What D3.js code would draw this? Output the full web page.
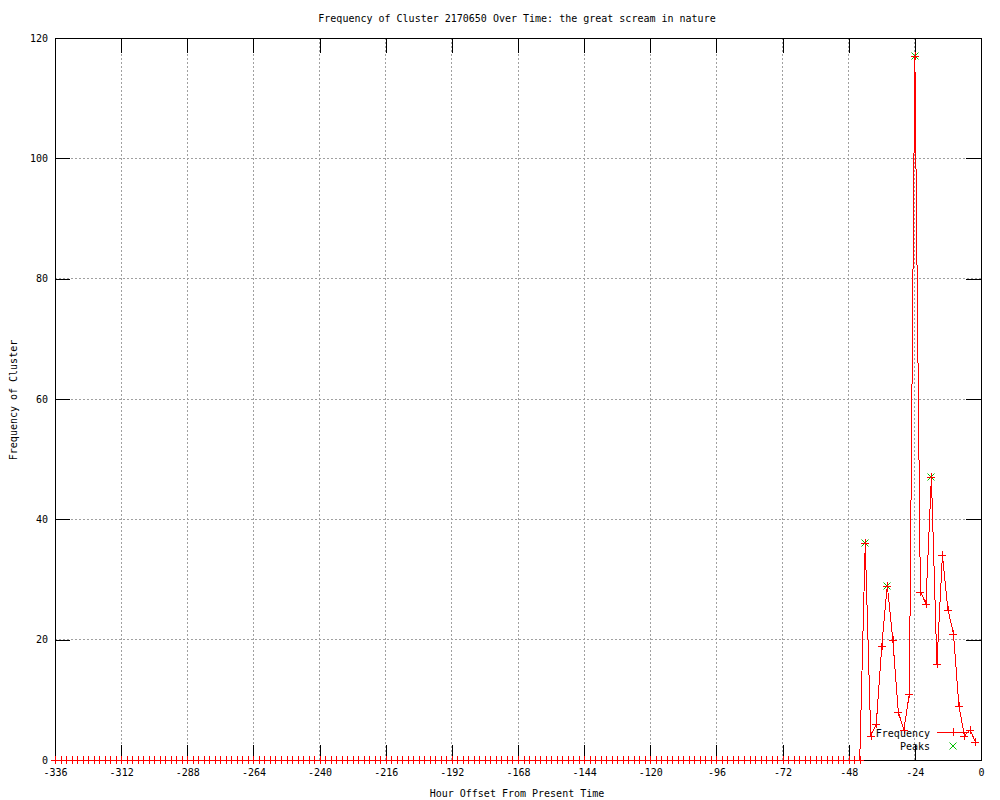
<!DOCTYPE html>
<html>
<head>
<meta charset="utf-8">
<script src="https://cdn.jsdelivr.net/npm/d3@7"></script>
<style>
  body { margin: 0; background: #fff; }
  svg text { font-family: "DejaVu Sans Mono", monospace; font-size: 10px; fill: #000; }
</style>
</head>
<body>
<div id="chart"></div>
<script>
// frequency per 2-hour bin, first bin at hour -336, last at hour -2
let freq = [
    0,0,0,0,0,0,0,0,0,0,0,0,0,0,0,0,0,0,0,0,0,0,0,0,
    0,0,0,0,0,0,0,0,0,0,0,0,0,0,0,0,0,0,0,0,0,0,0,0,
    0,0,0,0,0,0,0,0,0,0,0,0,0,0,0,0,0,0,0,0,0,0,0,0,
    0,0,0,0,0,0,0,0,0,0,0,0,0,0,0,0,0,0,0,0,0,0,0,0,
    0,0,0,0,0,0,0,0,0,0,0,0,0,0,0,0,0,0,0,0,0,0,0,0,
    0,0,0,0,0,0,0,0,0,0,0,0,0,0,0,0,0,0,0,0,0,0,0,0,
    0,0,0,
    36,4,6,19,29,20,8,5,11,117,28,26,47,16,34,25,21,9,4,5,3
];
let firstHour = -336;
let step = 2;

let peakHours = [-42, -34, -24, -18];
let peakValues = [36, 29, 117, 47];

let xTicks = [-336,-312,-288,-264,-240,-216,-192,-168,-144,-120,-96,-72,-48,-24,0];
let yTicks = [0,20,40,60,80,100,120];

let larg = 1000;
let alt = 800;
let mLeft = 55, mRight = 981, mTop = 38, mBottom = 760;

let freqData = freq.map((v, i) => ({h: firstHour + i*step, v: v}));
let peakData = peakHours.map((h, i) => ({h: h, v: peakValues[i]}));

let canvas = d3.select("#chart")
    .append("svg")
    .attr("width", larg)
    .attr("height", alt);

let x = d3.scaleLinear().domain([-336, 0]).range([mLeft, mRight]);
let y = d3.scaleLinear().domain([0, 120]).range([mBottom, mTop]);

// grid
let grid = canvas.append("g")
    .attr("stroke", "#a0a0a0")
    .attr("stroke-dasharray", "2,2")
    .attr("shape-rendering", "crispEdges");
grid.selectAll(".gx")
    .data(xTicks.slice(1, -1))
    .enter().append("line")
    .attr("x1", d => x(d)).attr("x2", d => x(d))
    .attr("y1", mTop).attr("y2", mBottom);
grid.selectAll(".gy")
    .data(yTicks.slice(1, -1))
    .enter().append("line")
    .attr("y1", d => y(d)).attr("y2", d => y(d))
    .attr("x1", mLeft).attr("x2", mRight);

// frequency line
let line = d3.line().x(d => x(d.h)).y(d => y(d.v));
canvas.append("path")
    .datum(freqData)
    .attr("d", line)
    .attr("fill", "none")
    .attr("stroke", "red")
    .attr("stroke-width", 1)
    .attr("shape-rendering", "crispEdges");

// axes with inward ticks on all sides
let tick = 15;
let styleAxis = g => {
    g.select(".domain").remove();
    g.selectAll(".tick line").attr("stroke", "#000").attr("shape-rendering", "crispEdges");
    g.selectAll("text").style("font-family", '"DejaVu Sans Mono", monospace').style("font-size", "10px").attr("fill", "#000");
};

canvas.append("g")
    .attr("transform", `translate(0,${mBottom})`)
    .call(d3.axisBottom(x).tickValues(xTicks).tickSize(-tick).tickPadding(9)
        .tickFormat(d => String(d)))
    .call(styleAxis);
canvas.append("g")
    .attr("transform", `translate(0,${mTop})`)
    .call(d3.axisTop(x).tickValues(xTicks).tickSize(-tick).tickFormat(""))
    .call(styleAxis);
canvas.append("g")
    .attr("transform", `translate(${mLeft},0)`)
    .call(d3.axisLeft(y).tickValues(yTicks).tickSize(-tick).tickPadding(7))
    .call(styleAxis);
canvas.append("g")
    .attr("transform", `translate(${mRight},0)`)
    .call(d3.axisRight(y).tickValues(yTicks).tickSize(-tick).tickFormat(""))
    .call(styleAxis);

canvas.append("rect")
    .attr("x", mLeft).attr("y", mTop)
    .attr("width", mRight - mLeft).attr("height", mBottom - mTop)
    .attr("fill", "none")
    .attr("stroke", "#000")
    .attr("shape-rendering", "crispEdges");

// markers
let plus = (g, cx, cy, col) => {
    g.append("line").attr("x1", cx - 4).attr("x2", cx + 4).attr("y1", cy).attr("y2", cy)
        .attr("stroke", col).attr("shape-rendering", "crispEdges");
    g.append("line").attr("x1", cx).attr("x2", cx).attr("y1", cy - 4).attr("y2", cy + 4)
        .attr("stroke", col).attr("shape-rendering", "crispEdges");
};
let cross = (g, cx, cy, col) => {
    g.append("line").attr("x1", cx - 3.5).attr("x2", cx + 3.5).attr("y1", cy - 3.5).attr("y2", cy + 3.5)
        .attr("stroke", col);
    g.append("line").attr("x1", cx - 3.5).attr("x2", cx + 3.5).attr("y1", cy + 3.5).attr("y2", cy - 3.5)
        .attr("stroke", col);
};

// peaks drawn first so the red + shows in their centre
let marks = canvas.append("g");
peakData.forEach(d => cross(marks, Math.round(x(d.h)), Math.round(y(d.v)), "#00c000"));
freqData.forEach(d => plus(marks, Math.round(x(d.h)), Math.round(y(d.v)), "red"));

// legend
let lg = canvas.append("g");
lg.append("text").attr("x", 930).attr("y", 733).attr("dy", "0.35em")
    .attr("text-anchor", "end").text("Frequency");
lg.append("line").attr("x1", 937).attr("x2", 969).attr("y1", 732).attr("y2", 732)
    .attr("stroke", "red").attr("shape-rendering", "crispEdges");
plus(lg, 953, 732, "red");
lg.append("text").attr("x", 930).attr("y", 746).attr("dy", "0.35em")
    .attr("text-anchor", "end").text("Peaks");
cross(lg, 953, 746, "#00c000");

// titles
canvas.append("text")
    .attr("x", 517).attr("y", 18).attr("dy", "0.35em")
    .attr("text-anchor", "middle")
    .text("Frequency of Cluster 2170650 Over Time: the great scream in nature");
canvas.append("text")
    .attr("x", 517).attr("y", 793).attr("dy", "0.35em")
    .attr("text-anchor", "middle")
    .text("Hour Offset From Present Time");
canvas.append("text")
    .attr("transform", "translate(13,400) rotate(-90)")
    .attr("dy", "0.35em")
    .attr("text-anchor", "middle")
    .text("Frequency of Cluster");
</script>
</body>
</html>
